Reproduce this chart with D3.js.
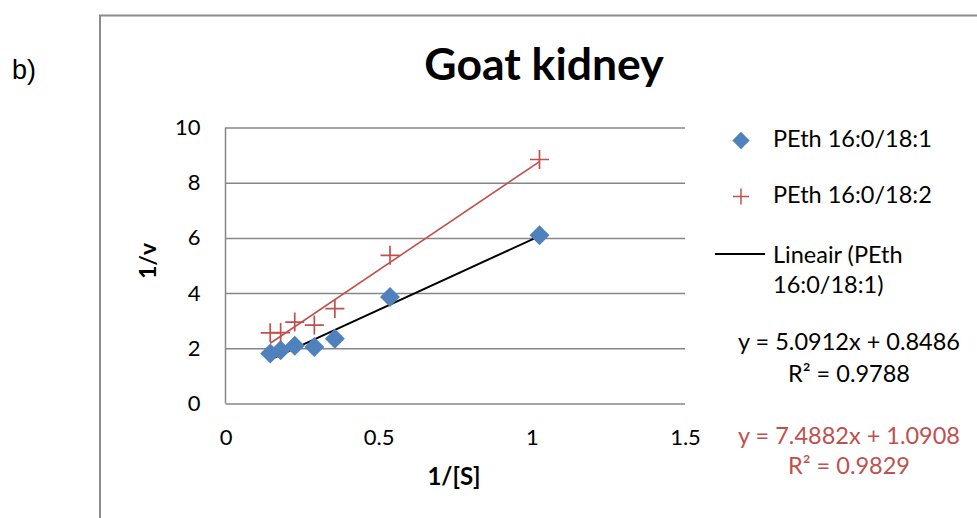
<!DOCTYPE html>
<html>
<head>
<meta charset="utf-8">
<script src="https://cdn.jsdelivr.net/npm/d3@7"></script>
<style>
  html, body { margin: 0; padding: 0; background: #fff; }
  svg { display: block; }
  text { font-family: Lato, "Open Sans", sans-serif; }
</style>
</head>
<body>
<svg id="chart" width="977" height="518"></svg>
<script>
// Lineweaver-Burk data: 1/[S] against 1/v for two PEth species
const invS = [0.146, 0.180, 0.226, 0.290, 0.357, 0.537, 1.025];
const pe181 = [1.81, 1.93, 2.09, 2.05, 2.35, 3.86, 6.10];
const pe182 = [2.56, 2.57, 2.95, 2.84, 3.44, 5.37, 8.84];

// Linear fits reported for each series
const fit181 = { slope: 5.0912, intercept: 0.8486, r2: "0.9788" };
const fit182 = { slope: 7.4882, intercept: 1.0908, r2: "0.9829" };

const xTicks = [0, 0.5, 1, 1.5];
const yTicks = [0, 2, 4, 6, 8, 10];
const seriesNames = ["PEth 16:0/18:1", "PEth 16:0/18:2"];

const BLUE = "#4F81BD", RED = "#C0504D", GRID = "#868686";
const FS = 23.5;

const svg = d3.select("#chart");

// outer frame of the chart object
svg.append("path")
  .attr("d", "M100,518 V15.5 H977")
  .attr("fill", "none").attr("stroke", "#8c8c8c").attr("stroke-width", 2);

svg.append("text").text("b)")
  .attr("x", 12).attr("y", 79)
  .style("font-family", "'Liberation Sans', Arial, sans-serif")
  .attr("font-size", 27).attr("fill", "#000");

const x = d3.scaleLinear().domain([0, 1.5]).range([225.5, 685]);
const y = d3.scaleLinear().domain([0, 10]).range([403.5, 127.5]);

// horizontal gridlines
svg.append("g").attr("transform", `translate(${x(0)},0)`)
  .call(d3.axisLeft(y).tickValues(yTicks).tickSize(-(x(1.5) - x(0))).tickFormat(""))
  .call(g => g.select(".domain").remove())
  .call(g => g.selectAll("line").attr("stroke", GRID).attr("stroke-width", 1.5));

// vertical axis line
svg.append("line")
  .attr("x1", x(0)).attr("x2", x(0)).attr("y1", y(10)).attr("y2", y(0))
  .attr("stroke", GRID).attr("stroke-width", 1.5);

// y tick labels
svg.append("g").attr("transform", `translate(${x(0)},0)`)
  .call(d3.axisLeft(y).tickValues(yTicks).tickSize(0).tickPadding(25).tickFormat(d3.format("d")))
  .call(g => g.select(".domain").remove())
  .call(g => g.selectAll("text").attr("font-size", 22).attr("fill", "#000")
    .style("font-family", "Lato, sans-serif"));

// x tick labels
svg.append("g").attr("transform", `translate(0,${y(0)})`)
  .call(d3.axisBottom(x).tickValues(xTicks).tickSize(0).tickPadding(26).tickFormat(d => String(d)))
  .call(g => g.select(".domain").remove())
  .call(g => g.selectAll("text").attr("font-size", 22).attr("fill", "#000")
    .style("font-family", "Lato, sans-serif"));

// axis titles
svg.append("text").text("1/[S]")
  .attr("x", 454).attr("y", 485).attr("text-anchor", "middle")
  .attr("font-size", 24).attr("font-weight", "bold");
svg.append("text").text("1/v")
  .attr("transform", "translate(156,261) rotate(-90)").attr("text-anchor", "middle")
  .attr("font-size", 23).attr("font-weight", "bold");

// chart title
svg.append("text").text("Goat kidney")
  .attr("x", 544).attr("y", 80).attr("text-anchor", "middle")
  .attr("font-size", 44.5).attr("font-weight", "bold");

// trendlines
const ext = d3.extent(invS);
const fitLine = (f) => d3.line()(ext.map(v => [x(v), y(f.slope * v + f.intercept)]));
svg.append("path").attr("d", fitLine(fit182))
  .attr("stroke", RED).attr("stroke-width", 1.6).attr("fill", "none");
svg.append("path").attr("d", fitLine(fit181))
  .attr("stroke", "#000").attr("stroke-width", 2).attr("fill", "none");

// markers
const diamond = d3.symbol().type(d3.symbolSquare).size(200)();
const cross = (s) => `M${-s},0H${s}M0,${-s}V${s}`;

svg.append("g").selectAll("path").data(invS.map((v, i) => [v, pe181[i]]))
  .join("path")
  .attr("d", diamond)
  .attr("transform", d => `translate(${x(d[0])},${y(d[1])}) rotate(45)`)
  .attr("fill", BLUE);

svg.append("g").selectAll("path").data(invS.map((v, i) => [v, pe182[i]]))
  .join("path")
  .attr("d", cross(9.5))
  .attr("transform", d => `translate(${x(d[0])},${y(d[1])})`)
  .attr("stroke", RED).attr("stroke-width", 1.7).attr("fill", "none");

// legend
const lg = svg.append("g");
lg.append("path").attr("d", d3.symbol().type(d3.symbolSquare).size(150)())
  .attr("transform", "translate(741,140.5) rotate(45)").attr("fill", BLUE);
lg.append("text").text(seriesNames[0]).attr("x", 773).attr("y", 147).attr("font-size", FS);
lg.append("path").attr("d", cross(8))
  .attr("transform", "translate(741,196.5)").attr("stroke", RED).attr("stroke-width", 1.5);
lg.append("text").text(seriesNames[1]).attr("x", 773).attr("y", 203).attr("font-size", FS);
lg.append("line").attr("x1", 715).attr("x2", 765).attr("y1", 254).attr("y2", 254)
  .attr("stroke", "#000").attr("stroke-width", 2);
lg.append("text").text("Lineair (PEth").attr("x", 773).attr("y", 263).attr("font-size", FS);
lg.append("text").text("16:0/18:1)").attr("x", 773).attr("y", 293).attr("font-size", FS);

// equation labels
const fmtEq = f => `y = ${f.slope.toFixed(4)}x + ${f.intercept.toFixed(4)}`;
const eq = [
  { t: fmtEq(fit181), yy: 350, c: "#000" },
  { t: `R² = ${fit181.r2}`, yy: 382, c: "#000" },
  { t: fmtEq(fit182), yy: 443.5, c: RED },
  { t: `R² = ${fit182.r2}`, yy: 474, c: RED }
];
svg.append("g").selectAll("text").data(eq).join("text")
  .text(d => d.t).attr("x", 849).attr("y", d => d.yy)
  .attr("text-anchor", "middle").attr("font-size", FS).attr("fill", d => d.c);
</script>
</body>
</html>
